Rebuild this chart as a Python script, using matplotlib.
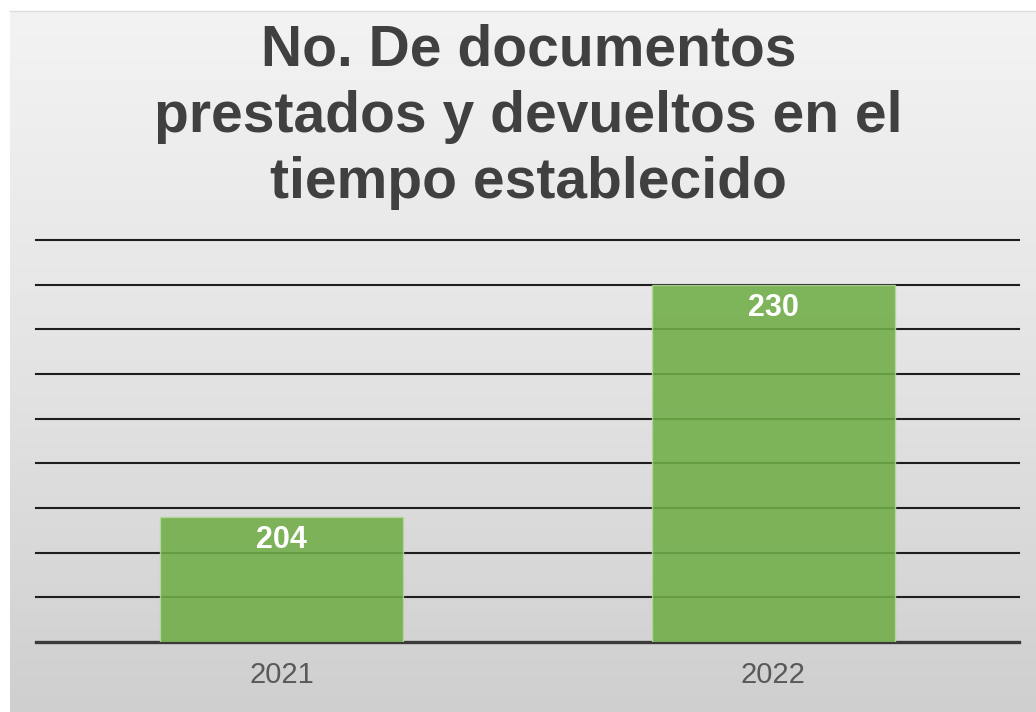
import matplotlib
matplotlib.use("Agg")
import matplotlib.pyplot as plt
import numpy as np
from matplotlib.colors import LinearSegmentedColormap

categories = ["2021", "2022"]
values = [204, 230]
y_min, y_max, y_step = 190, 235, 5
title_lines = ["No. De documentos", "prestados y devueltos en el", "tiempo establecido"]

W, H = 1036, 712
fig = plt.figure(figsize=(W / 100, H / 100), dpi=100)
fig.patch.set_facecolor("white")

# background gradient panel
bg = fig.add_axes([0, 0, 1, 1])
bg.set_xlim(0, W)
bg.set_ylim(H, 0)
bg.axis("off")
grad = np.linspace(0, 1, 256).reshape(-1, 1)
cmap = LinearSegmentedColormap.from_list("g", ["#f3f3f3", "#e4e4e4", "#cfcfcf"])
bg.imshow(grad, cmap=cmap, aspect="auto", extent=(10, W, H, 11), zorder=0)
bg.plot([10, W], [11, 11], color="#dcdcdc", lw=1, zorder=1)

# plot axes
left, right = 36 / W, 1019 / W
bottom, top = (H - 642) / H, (H - 240) / H
ax = fig.add_axes([left, bottom, right - left, top - bottom])
ax.patch.set_alpha(0)
ax.set_xlim(-0.5, 1.5)
ax.set_ylim(y_min, y_max)
for s in ax.spines.values():
    s.set_visible(False)
ticks = np.arange(y_min, y_max + 0.1, y_step)
for t in ticks:
    ax.axhline(t, color="#1e1e1e" if t > y_min else "#3a3a3a",
               lw=1.5 if t > y_min else 2.4, zorder=1, clip_on=False)
ax.set_yticks([])
x = np.arange(len(categories))
bars = ax.bar(x, [v - y_min for v in values], bottom=y_min, width=0.495,
              color="#70ad47", alpha=0.88, edgecolor="#b4d89c", linewidth=1.0, zorder=2)
for xi, v in zip(x, values):
    ax.annotate(str(v), (xi, v), xytext=(0, -6), textcoords="offset points",
                ha="center", va="top", color="white", fontsize=22,
                fontweight="bold", family="Liberation Sans", zorder=3)
ax.set_xticks(x)
ax.set_xticklabels(categories, fontsize=21, color="#595959", family="Liberation Sans")
ax.tick_params(axis="x", length=0, pad=14)

for line, base in zip(title_lines, [66, 132, 198]):
    fig.text(0.510, 1 - base / H, line, ha="center", va="baseline", fontsize=41,
             fontweight="bold", color="#404040", family="Liberation Sans")

fig.savefig("out.png", dpi=100)
